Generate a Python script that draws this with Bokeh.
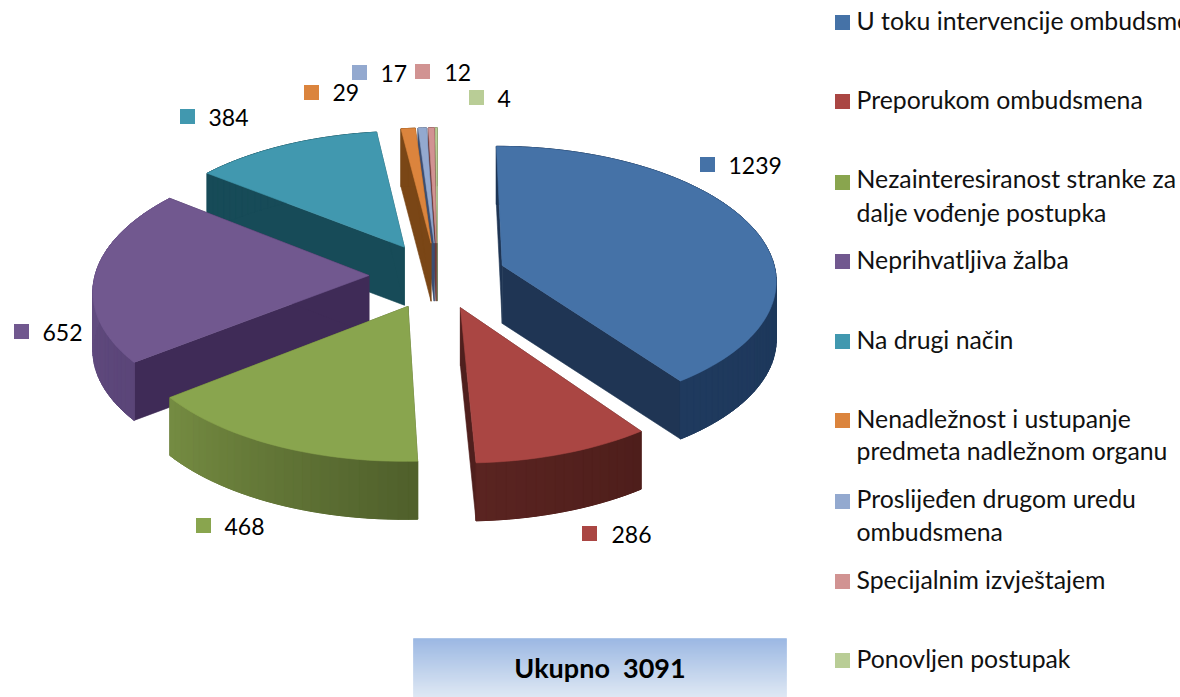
import numpy as np
from bokeh.plotting import figure
from bokeh.models import Range1d
from bokeh.core.properties import value
from bokeh.embed import file_html
from bokeh.resources import INLINE

# ---- data ----
values = [1239, 286, 468, 652, 384, 29, 17, 12, 4]
total_label = "Ukupno \u00a03091"
legend_lines = [
    ["U toku intervencije ombudsmena"],
    ["Preporukom ombudsmena"],
    ["Nezainteresiranost stranke za", "dalje vođenje postupka"],
    ["Neprihvatljiva žalba"],
    ["Na drugi način"],
    ["Nenadležnost i ustupanje", "predmeta nadležnom organu"],
    ["Proslijeđen drugom uredu", "ombudsmena"],
    ["Specijalnim izvještajem"],
    ["Ponovljen postupak"],
]

# ---- styles ----
top_col = ["#4572A7", "#AA4643", "#89A54E", "#71588F", "#4198AF", "#DB843D", "#93A9CF", "#D19392", "#B9CD96"]
cut_col = ["#1F3554", "#4F1F1D", "#4F5F2B", "#3F2B57", "#174B58", "#7A4616", "#3B4F73", "#6E3A39", "#66754A"]
wall_a = ["#1C3555", "#4E1E1B", "#4F5F2B", "#5A4578", "#174B58", "#7A4616", "#3B4F73", "#6E3A39", "#66754A"]
wall_b = ["#1F3A5E", "#5A2421", "#758C42", "#6A5388", "#174B58", "#7A4616", "#3B4F73", "#6E3A39", "#66754A"]
draw_order = [8, 7, 6, 5, 4, 3, 0, 1, 2]

# ---- layout ----
W, H = 1180, 697
CX, CY = 437, 275
S = 274
K = 0.485
PERSP = 0.10
EXPLODE = 0.25
DEPTH = 58

label_sq_x = [707, 589, 203, 21, 187, 311, 359, 422, 476]
label_sq_y = [164, 533, 525, 331, 116, 92, 72, 71, 97]
label_tx_x = [728, 611, 224, 42, 208, 332, 380, 444, 497]
label_tx_y = [165, 534, 526, 332, 117, 92, 73, 72, 98]
legend_sq_y = [22, 101, 182, 261, 341, 420, 501, 581, 660]
legend_tx_y = [[20], [99], [178, 212], [259], [339], [418, 450], [498, 531], [579], [658]]
LEG_SQ_X, LEG_TX_X = 842, 856


def proj(X, Y, dz=0.0):
    f = 1.0 / (1.0 + PERSP * Y)
    return CX + S * X * f, CY - S * K * Y * f + dz


def mix(c1, c2, u):
    a = [int(c1[i:i + 2], 16) for i in (1, 3, 5)]
    b = [int(c2[i:i + 2], 16) for i in (1, 3, 5)]
    return "#%02x%02x%02x" % tuple(int(round(p + (q - p) * u)) for p, q in zip(a, b))


p = figure(width=W, height=H, x_range=Range1d(0, W), y_range=Range1d(H, 0),
           toolbar_location=None, output_backend="svg", min_border=0,
           outline_line_color=None, background_fill_color="white")
p.axis.visible = False
p.grid.visible = False

vals = np.array(values, dtype=float)
edges = np.concatenate([[0], np.cumsum(vals)]) / vals.sum() * 2 * np.pi


def poly(xs, ys, color, lw=0.6):
    p.patch(list(xs), list(ys), fill_color=color, line_color=color, line_width=lw)


for i in draw_order:
    t0, t1 = edges[i], edges[i + 1]
    mid = (t0 + t1) / 2
    ex, ey = EXPLODE * np.sin(mid), EXPLODE * np.cos(mid)
    n = max(3, int((t1 - t0) / 0.03))
    ts = np.linspace(t0, t1, n)
    ax, ay = proj(ex, ey)
    arcx, arcy = proj(ex + np.sin(ts), ey + np.cos(ts))
    botx, boty = proj(ex + np.sin(ts), ey + np.cos(ts), DEPTH)
    # cut walls
    for j in (0, -1):
        poly([ax, arcx[j], botx[j], ax], [ay, arcy[j], boty[j], ay + DEPTH], cut_col[i])
    # rim: a solid underlay, then the shaded strips over it
    poly([*arcx, *botx[::-1]], [*arcy, *boty[::-1]], mix(wall_a[i], wall_b[i], 0.5))
    for j in range(n - 1):
        u = (j + 0.5) / (n - 1)
        poly([arcx[j], arcx[j + 1], botx[j + 1], botx[j]],
             [arcy[j], arcy[j + 1], boty[j + 1], boty[j]],
             mix(wall_a[i], wall_b[i], u), lw=1.0)
    # top
    poly([ax, *arcx], [ay, *arcy], top_col[i])

# data labels
p.rect(label_sq_x, label_sq_y, width=15, height=15, fill_color=top_col, line_color=None)
p.text(label_tx_x, label_tx_y, text=[str(v) for v in values], text_font=value("Lato"),
       text_font_size=value("23px"), text_baseline="middle", text_color="#000000")

# legend
p.rect([LEG_SQ_X] * len(values), legend_sq_y, width=15, height=15, fill_color=top_col, line_color=None)
for lines, ys in zip(legend_lines, legend_tx_y):
    p.text([LEG_TX_X] * len(lines), ys, text=lines, text_font=value("Lato"),
           text_font_size=value("24.8px"), text_baseline="middle", text_color="#111111")

# total box
BOX_L, BOX_R, BOX_T, BOX_B = 413, 786, 638, 697
rows = np.arange(BOX_T, BOX_B)
p.quad(left=BOX_L, right=BOX_R, top=rows, bottom=rows + 1,
       fill_color=[mix("#95B3E1", "#DDE7F3", (r - BOX_T) / (BOX_B - BOX_T)) for r in rows],
       line_color=[mix("#95B3E1", "#DDE7F3", (r - BOX_T) / (BOX_B - BOX_T)) for r in rows], line_width=0.5)
p.text([(BOX_L + BOX_R) / 2], [667], text=[total_label], text_font=value("Lato"), text_font_style="bold",
       text_font_size=value("27px"), text_align="center", text_baseline="middle", text_color="#000000")

open("out.html", "w").write(file_html(p, INLINE))
